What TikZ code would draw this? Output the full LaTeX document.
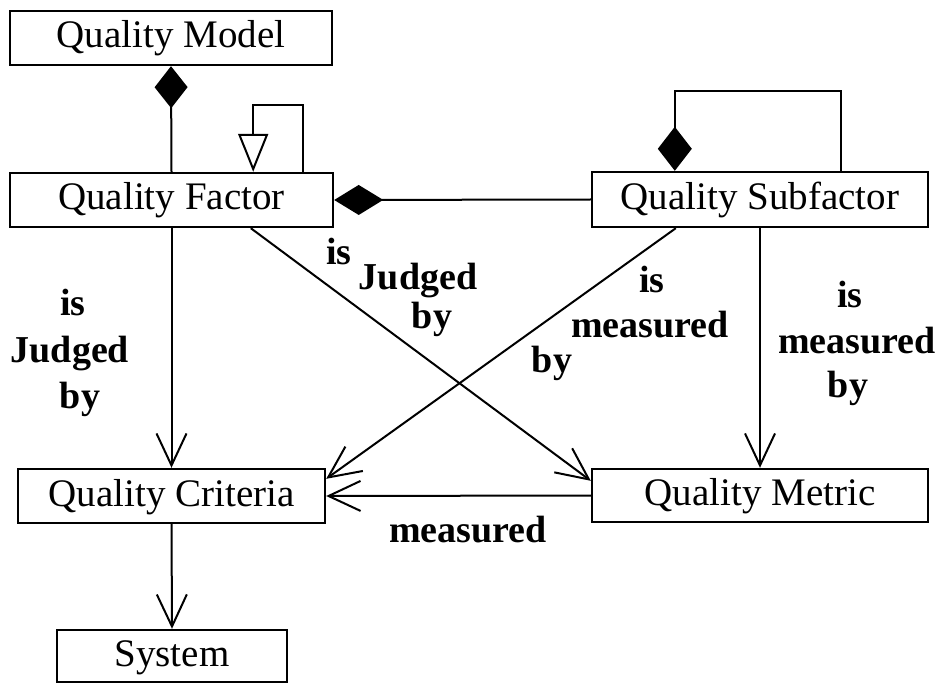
\documentclass[tikz,border=0pt]{standalone}
\usepackage{fontspec}
\setmainfont{Liberation Serif}
\usetikzlibrary{arrows.meta}
\begin{document}
\begin{tikzpicture}[x=1pt,y=-1pt,
  box/.style={draw, line width=2.4pt, inner sep=0pt, text height=26pt, text depth=6pt,
              font=\fontsize{39}{45}\selectfont},
  lab/.style={font=\bfseries\fontsize{38}{44}\selectfont, anchor=base, inner sep=0pt},
  conn/.style={line width=2pt},
  openarrow/.style={conn, -{Straight Barb[length=32pt, width=30pt, line width=2pt]}}
]
\useasboundingbox (0,0) rectangle (941,684);

% classes
\node[box, minimum width=322pt, minimum height=54pt] (model)  at (171,38)    {Quality Model};
\node[box, minimum width=323pt, minimum height=54pt] (factor) at (171.5,200) {Quality Factor};
\node[box, minimum width=336pt, minimum height=55pt] (sub)    at (760,199.5) {Quality Subfactor};
\node[box, minimum width=307pt, minimum height=54pt] (crit)   at (171.5,496) {Quality Criteria};
\node[box, minimum width=336pt, minimum height=53pt] (metric) at (760,495.5) {Quality Metric};
\node[box, minimum width=230pt, minimum height=52pt] (system) at (172,656)   {System};

% composition: model owns factors
\draw[conn, -{Diamond[length=42pt, width=33pt]}] (factor.north) -- (model.south);
% generalisation loop on factor
\draw[conn, -{Triangle[open, length=38pt, width=30pt, line width=2pt]}]
  ([xshift=-31pt]factor.north east) -- ++(0,-67) -| ([xshift=-81pt]factor.north east);
% composition: factor owns subfactors
\draw[conn, {Diamond[length=49pt, width=30pt]}-] (factor.east) -- (sub.west);
% composition loop on subfactor
\draw[conn, {Diamond[length=44pt, width=34pt]}-]
  ([xshift=84pt]sub.north west) -- ++(0,-80) -| ([xshift=250pt]sub.north west);

% associations
\draw[openarrow] (factor.south) -- (crit.north);
\draw[openarrow] ([xshift=242pt]factor.south west) -- ([yshift=-13pt]metric.north west);
\draw[openarrow] ([xshift=85pt]sub.south west) -- ([yshift=-11pt]crit.north east);
\draw[openarrow, line width=1.6pt] (sub.south) -- (metric.north);
\draw[openarrow] (metric.west) -- (crit.east);
\draw[openarrow] (crit.south) -- (system.north);

% association labels
\node[lab] (ljA) at (73,315)  {is};
\node[lab] (ljB) at (70,362)  {Judged};
\node[lab] (ljC) at (80,408)  {by};

\node[lab] (mjA) at (339,265) {is};
\node[lab] (mjB) at (418,290) {Judged};
\node[lab] (mjC) at (432,328) {by};

\node[lab] (mmA) at (652,292) {is};
\node[lab] (mmB) at (650,337) {measured};
\node[lab] (mmC) at (552,372) {by};

\node[lab] (rmA) at (850,307) {is};
\node[lab] (rmB) at (857,353) {measured};
\node[lab] (rmC) at (848,397) {by};

\node[lab] (bm) at (468,542) {measured};
\end{tikzpicture}
\end{document}
